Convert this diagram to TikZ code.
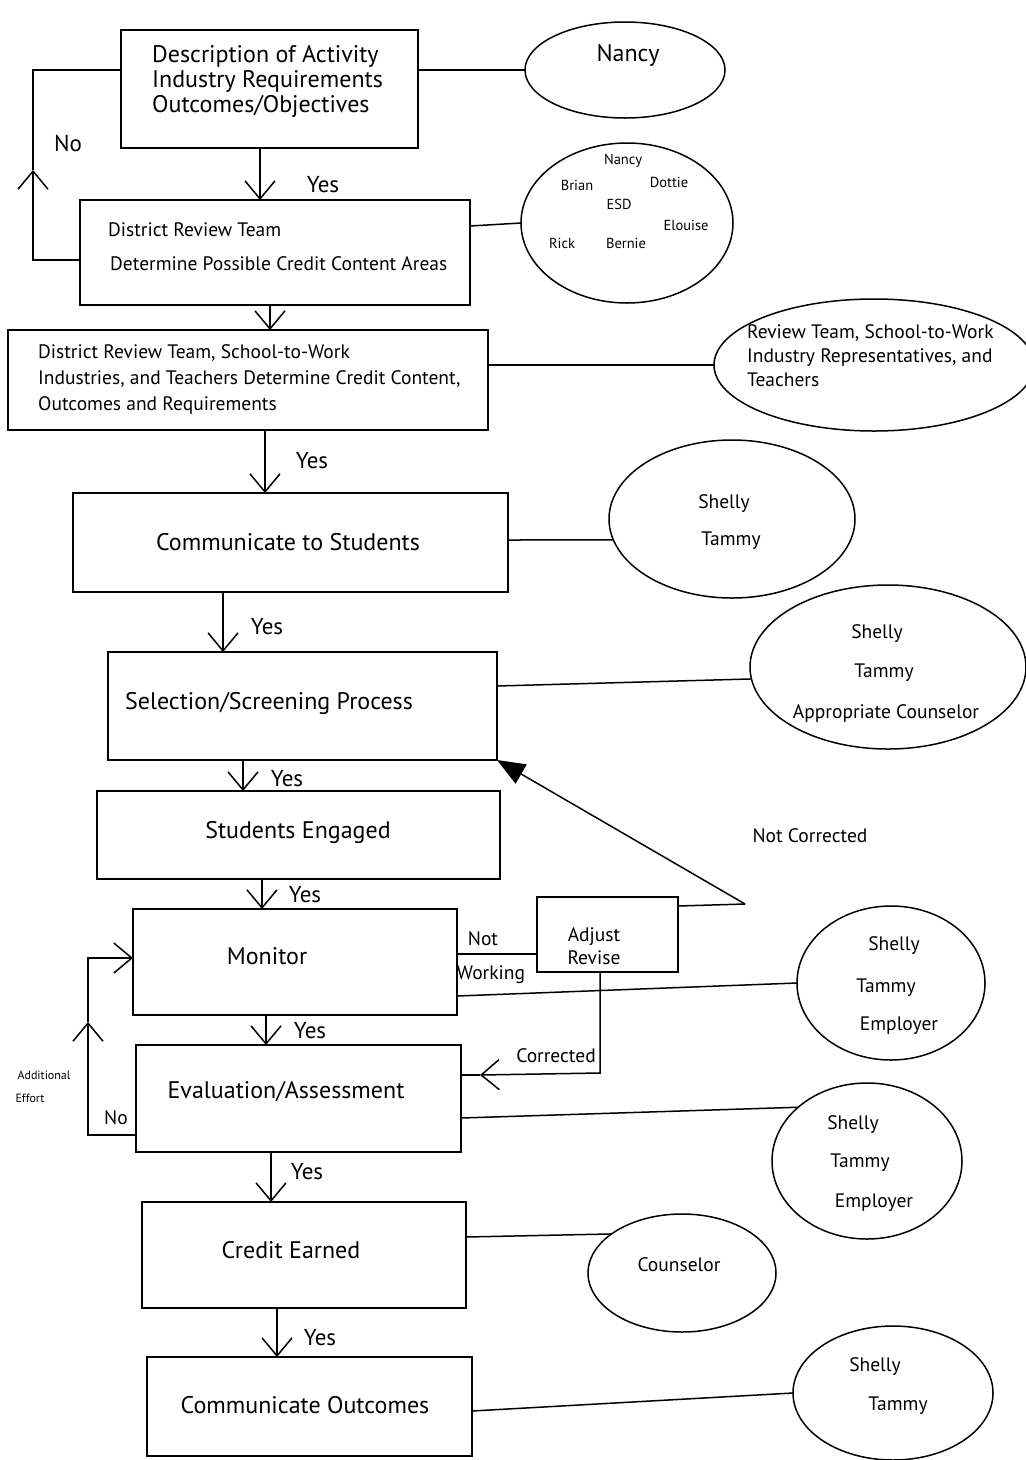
\documentclass[tikz,border=0pt]{standalone}
\usepackage{fontspec}
\setmainfont{PT Sans}
\usetikzlibrary{arrows.meta,shapes.geometric}
\begin{document}
\begin{tikzpicture}[x=1pt,y=-1pt,
  box/.style={draw,line width=1.5pt,inner sep=0pt,outer sep=0pt},
  oval/.style={draw,ellipse,line width=1.5pt,inner sep=0pt,outer sep=0pt},
  conn/.style={line width=1.5pt},
  barb/.style={line width=1.5pt,-{Straight Barb[length=18pt,width=30pt]}},
  tri/.style={line width=1.5pt,-{Triangle[length=28pt,width=22pt]}},
  big/.style={font=\fontsize{24}{25}\selectfont,inner sep=0pt},
  mid/.style={font=\fontsize{19.5}{25}\selectfont,inner sep=0pt},
  lab/.style={font=\fontsize{23}{26}\selectfont,inner sep=0pt},
  tiny/.style={font=\fontsize{14.5}{16}\selectfont,inner sep=0pt},
  micro/.style={font=\fontsize{12}{14}\selectfont,inner sep=0pt}]
\useasboundingbox (0,0) rectangle (1026,1460);
\fill[white] (0,0) rectangle (1026,1460);

% boxes
\node[box,minimum width=297pt,minimum height=118pt] (b1) at (269.5,89) {};
\node[box,minimum width=390pt,minimum height=105pt] (b2) at (275,252.5) {};
\node[box,minimum width=480pt,minimum height=100pt] (b3) at (248,380) {};
\node[box,minimum width=435pt,minimum height=99pt] (b4) at (290.5,542.5) {};
\node[box,minimum width=389pt,minimum height=108pt] (b5) at (302.5,706) {};
\node[box,minimum width=403pt,minimum height=88pt] (b6) at (298.5,835) {};
\node[box,minimum width=324pt,minimum height=106pt] (b7) at (295,962) {};
\node[box,minimum width=141pt,minimum height=75pt] (b8) at (607.5,934.5) {};
\node[box,minimum width=325pt,minimum height=107pt] (b9) at (298.5,1098.5) {};
\node[box,minimum width=324pt,minimum height=106pt] (b10) at (304,1255) {};
\node[box,minimum width=325pt,minimum height=99pt] (b11) at (309.5,1406.5) {};

% ellipses
\node[oval,minimum width=200pt,minimum height=96pt] (e1) at (625,70) {};
\node[oval,minimum width=212pt,minimum height=160pt] (e2) at (627,223) {};
\node[oval,minimum width=320pt,minimum height=132pt] (e3) at (874,365) {};
\node[oval,minimum width=246pt,minimum height=158pt] (e4) at (732,519) {};
\node[oval,minimum width=276pt,minimum height=164pt] (e5) at (888,667) {};
\node[oval,minimum width=188pt,minimum height=154pt] (e7) at (891,983) {};
\node[oval,minimum width=190pt,minimum height=156pt] (e9) at (867,1161) {};
\node[oval,minimum width=188pt,minimum height=118pt] (e10) at (682,1273) {};
\node[oval,minimum width=200pt,minimum height=134pt] (e11) at (893,1393) {};

% box texts
\node[big,anchor=west,align=left] (t1) at (152,82) {Description of Activity\\Industry Requirements\\Outcomes/Objectives};
\node[mid,anchor=west] (t2a) at (108,230) {District Review Team};
\node[mid,anchor=west] (t2b) at (110,264) {Determine Possible Credit Content Areas};
\node[mid,anchor=west,align=left,font=\fontsize{19.5}{26}\selectfont] (t3) at (38,379) {District Review Team, School-to-Work\\Industries, and Teachers Determine Credit Content,\\Outcomes and Requirements};
\node[big] (t4) at (288,542) {Communicate to Students};
\node[big] (t5) at (269,703) {Selection/Screening Process};
\node[big] (t6) at (298,832) {Students Engaged};
\node[big] (t7) at (267,956) {Monitor};
\node[mid,align=center,font=\fontsize{19.5}{23}\selectfont] (t8) at (594,946) {Adjust\\Revise};
\node[big] (t9) at (286,1092) {Evaluation/Assessment};
\node[big] (t10) at (291,1250) {Credit Earned};
\node[big] (t11) at (305,1405) {Communicate Outcomes};

% ellipse texts
\node[big] (n1) at (628,55) {Nancy};
\node[tiny] (n2a) at (623,161) {Nancy};
\node[tiny] (n2b) at (577,185) {Brian};
\node[tiny] (n2c) at (669,182) {Dottie};
\node[tiny] (n2d) at (619,204) {ESD};
\node[tiny] (n2e) at (686,225) {Elouise};
\node[tiny] (n2f) at (562,243) {Rick};
\node[tiny] (n2g) at (626,243) {Bernie};
\node[mid,anchor=west,align=left,font=\fontsize{19.5}{24}\selectfont] (n3) at (747,356) {Review Team, School-to-Work\\Industry Representatives, and\\Teachers};
\node[mid] (n4a) at (724,504) {Shelly};
\node[mid] (n4b) at (731,541) {Tammy};
\node[mid] (n5a) at (877,634) {Shelly};
\node[mid] (n5b) at (884,673) {Tammy};
\node[mid] (n5c) at (886,713) {Appropriate Counselor};
\node[mid] (n7a) at (894,946) {Shelly};
\node[mid] (n7b) at (886,988) {Tammy};
\node[mid] (n7c) at (899,1026) {Employer};
\node[mid] (n9a) at (853,1125) {Shelly};
\node[mid] (n9b) at (860,1163) {Tammy};
\node[mid] (n9c) at (874,1203) {Employer};
\node[mid] (n10) at (679,1265) {Counselor};
\node[mid] (n11a) at (875,1367) {Shelly};
\node[mid] (n11b) at (898,1406) {Tammy};

% labels
\node[lab] (y1) at (323,185) {Yes};
\node[lab] (y2) at (312,461) {Yes};
\node[lab] (y3) at (267,627) {Yes};
\node[lab] (y4) at (287,779) {Yes};
\node[lab] (y5) at (305,895) {Yes};
\node[lab] (y6) at (310,1031) {Yes};
\node[lab] (y7) at (307,1172) {Yes};
\node[lab] (y8) at (320,1338) {Yes};
\node[lab] (no1) at (68,143) {No};
\node[mid] (no2) at (116,1118) {No};
\node[mid] (lnot) at (483,939) {Not};
\node[mid] (lwork) at (491,975) {Working};
\node[mid] (lnc) at (810,836) {Not Corrected};
\node[mid] (lcor) at (556,1056) {Corrected};
\node[micro] (lad) at (44,1075) {Additional};
\node[micro] (lef) at (30,1098) {Effort};

% vertical flow arrows
\draw[barb] (b1.south -| 260,0) -- (b2.north -| 260,0);
\draw[barb] (b2.south -| 270,0) -- (b3.north -| 270,0);
\draw[barb] (b3.south -| 265,0) -- (b4.north -| 265,0);
\draw[barb] (b4.south -| 223,0) -- (b5.north -| 223,0);
\draw[barb] (b5.south -| 243,0) -- (b6.north -| 243,0);
\draw[barb] (b6.south -| 262,0) -- (b7.north -| 262,0);
\draw[barb] (b7.south -| 266,0) -- (b9.north -| 266,0);
\draw[barb] (b9.south -| 271,0) -- (b10.north -| 271,0);
\draw[barb] (b10.south -| 277,0) -- (b11.north -| 277,0);

% box to ellipse lines
\draw[conn] (b1.east |- e1.west) -- (e1.west);
\draw[conn] (b2.east |- 0,226) -- (e2.west);
\draw[conn] (b3.east |- e3.west) -- (e3.west);
\draw[conn] (b4.east |- 0,540) -- (e4.190);
\draw[conn] (b5.east |- 0,686) -- (e5.185);
\draw[conn] (b7.east |- 0,996) -- (e7.west);
\draw[conn] (b9.east |- 0,1118) -- (e9.142);
\draw[conn] (b10.east |- 0,1237) -- (e10.151);
\draw[conn] (b11.east |- 0,1411) -- (e11.west);

% No loop (top)
\coordinate (nohead) at (33,170);
\draw[barb] (b2.west |- 0,260) -- (33,260) -- (nohead);
\draw[conn] (nohead) -- (33,70) -- (b1.west |- 0,70);

% Not working / not corrected / corrected
\draw[conn] (b7.east |- 0,954) -- (b8.west |- 0,954);
\coordinate (ncc) at (745,904);
\draw[conn] (b8.east |- 0,906) -- (ncc);
\draw[tri] (ncc) -- (b5.south east);
\coordinate (corh) at (480,1075);
\draw[barb] (b8.south -| 600,0) -- (600,1073) -- (corh);
\draw[conn] (corh) -- (b9.east |- 0,1075);

% Additional effort loop
\coordinate (adh) at (88,1022);
\draw[barb] (b9.west |- 0,1135) -- (88,1135) -- (adh);
\draw[barb] (adh) -- (88,958) -- (b7.west |- 0,958);
\end{tikzpicture}
\end{document}
